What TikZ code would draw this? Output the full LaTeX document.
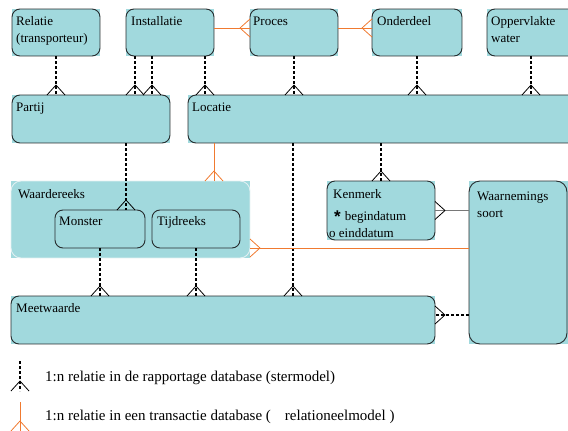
\documentclass[tikz,border=0pt]{standalone}
\usepackage{fontspec}
\setmainfont{Liberation Serif}
\usetikzlibrary{calc,decorations.markings}

\definecolor{boxfill}{RGB}{161,217,221}
\definecolor{boxline}{RGB}{38,44,46}
\definecolor{groupline}{RGB}{226,240,242}
\definecolor{relorange}{RGB}{240,122,48}
\definecolor{plainline}{RGB}{120,120,120}

\tikzset{
  entity/.style={rectangle, fill=boxfill, draw=none, anchor=north west,
    inner sep=0pt, outer sep=0pt},
  border/.style={draw=boxline, line width=0.9pt, rounded corners=8pt},
  groupborder/.style={draw=groupline, line width=0.9pt, rounded corners=10pt},
  lbl/.style={anchor=base west, inner sep=0pt, align=left,
    font=\fontsize{13}{17}\selectfont},
  legendlbl/.style={anchor=base west, inner sep=0pt,
    font=\fontsize{15}{18}\selectfont},
  crow/.style={postaction={decorate, decoration={markings,
    mark=at position 1 with {\draw[solid, line width=0.8pt, #1]
      (-10pt,0pt) -- (0pt,9pt) (-10pt,0pt) -- (0pt,-9pt);}}}},
  starrel/.style={draw=black, line width=1.8pt, dash pattern=on 3pt off 2pt,
    crow=black},
  transrel/.style={draw=relorange, line width=1pt, crow=relorange},
  plainrel/.style={draw=plainline, line width=1.5pt, crow=black},
}

\begin{document}
\begin{tikzpicture}[x=1pt, y=-1pt]
\useasboundingbox (0,0) rectangle (568,431);
\begin{scope}
\clip (0,0) rectangle (568,431);

% entities (sharp fill, rounded outline drawn afterwards)
\node[entity, minimum width=88, minimum height=47] (relatie)     at (12,9)   {};
\node[entity, minimum width=88, minimum height=47] (installatie) at (126,9)  {};
\node[entity, minimum width=88, minimum height=47] (proces)      at (250,9)  {};
\node[entity, minimum width=90, minimum height=47] (onderdeel)   at (372,9)  {};
\node[entity, minimum width=95, minimum height=47] (oppervlakte) at (487,9)  {};
\node[entity, minimum width=158, minimum height=48] (partij)      at (12,95)  {};
\node[entity, minimum width=392, minimum height=48] (locatie)    at (188,95) {};
\node[entity, minimum width=239, minimum height=77] (waardereeks) at (11,181) {};
\node[entity, minimum width=90, minimum height=38] (monster)     at (55,210) {};
\node[entity, minimum width=88, minimum height=38] (tijdreeks)   at (152,210) {};
\node[entity, minimum width=108, minimum height=59] (kenmerk)    at (327,181) {};
\node[entity, minimum width=99, minimum height=163] (waarneming) at (469,181) {};
\node[entity, minimum width=424, minimum height=48] (meetwaarde) at (11,296) {};

\draw[groupborder] (waardereeks.south west) rectangle (waardereeks.north east);
\foreach \n in {relatie,installatie,proces,onderdeel,partij,monster,tijdreeks,
                kenmerk,meetwaarde}
  \draw[border] (\n.south west) rectangle (\n.north east);
\draw[border] ($(oppervlakte.south west)$) rectangle ($(oppervlakte.north east)+(10,0)$);
\draw[border] ($(locatie.south west)$) rectangle ($(locatie.north east)+(10,0)$);
\draw[border, rounded corners=11pt] ($(waarneming.south west)$) rectangle ($(waarneming.north east)+(-1,0)$);

% entity names (two-line names are anchored at the baseline of their last line)
\node[lbl] (t-relatie)     at ($(relatie.north west)+(4,33)$)     {Relatie\\(transporteur)};
\node[lbl] (t-installatie) at ($(installatie.north west)+(5,16)$) {Installatie};
\node[lbl] (t-proces)      at ($(proces.north west)+(3,16)$)      {Proces};
\node[lbl] (t-onderdeel)   at ($(onderdeel.north west)+(5,16)$)   {Onderdeel};
\node[lbl] (t-oppervlakte) at ($(oppervlakte.north west)+(4,33)$) {Oppervlakte\\water};
\node[lbl] (t-partij)      at ($(partij.north west)+(4,16)$)      {Partij};
\node[lbl] (t-locatie)     at ($(locatie.north west)+(4,16)$)     {Locatie};
\node[lbl] (t-waardereeks) at ($(waardereeks.north west)+(7,17)$) {Waardereeks};
\node[lbl] (t-monster)     at ($(monster.north west)+(4,15)$)     {Monster};
\node[lbl] (t-tijdreeks)   at ($(tijdreeks.north west)+(5,15)$)   {Tijdreeks};
\node[lbl] (t-meetwaarde)  at ($(meetwaarde.north west)+(5,16)$)  {Meetwaarde};
\node[lbl] (t-kenmerk)     at ($(kenmerk.north west)+(6,17)$)     {Kenmerk};
\node[lbl] (t-begin)       at ($(kenmerk.north west)+(7,39)$)
  {\raisebox{-2pt}{\fontspec{Liberation Sans Bold}\fontsize{17}{17}\selectfont *}\hspace{4pt}begindatum};
\node[lbl] (t-eind)        at ($(kenmerk.north west)+(2,56)$)     {o einddatum};
\node[lbl] (t-waarneming)  at ($(waarneming.north west)+(8,36)$)  {Waarnemings\\soort};

% auxiliary attachment points
\coordinate (inst-a) at ($(installatie.south west)+(9,0)$);
\coordinate (inst-b) at ($(installatie.south west)+(26,0)$);
\coordinate (inst-c) at ($(installatie.south east)+(-9,0)$);
\coordinate (opp-a)  at ($(oppervlakte.south west)+(44,0)$);
\coordinate (inst-r) at ($(installatie.north east)+(0,19)$);
\coordinate (proc-r) at ($(proces.north east)+(0,19)$);
\coordinate (part-a) at ($(partij.south west)+(114,0)$);
\coordinate (loc-a)  at ($(locatie.south west)+(26,0)$);
\coordinate (loc-b)  at ($(locatie.south west)+(105,0)$);
\coordinate (wrn-a)  at ($(waarneming.north west)+(0,67)$);
\coordinate (wrn-b)  at ($(meetwaarde.north east)+(0,19)$);

% star model relations
\draw[starrel] (relatie.south) -- (relatie.south |- partij.north);
\draw[starrel] (inst-a) -- (inst-a |- partij.north);
\draw[starrel] (inst-b) -- (inst-b |- partij.north);
\draw[starrel] (inst-c) -- (inst-c |- locatie.north);
\draw[starrel] (proces.south) -- (proces.south |- locatie.north);
\draw[starrel] (onderdeel.south) -- (onderdeel.south |- locatie.north);
\draw[starrel] (opp-a) -- (opp-a |- locatie.north);
\draw[starrel] (part-a) -- (part-a |- monster.north);
\draw[starrel] (loc-b) -- (loc-b |- meetwaarde.north);
\draw[starrel] (kenmerk.north |- locatie.south) -- (kenmerk.north);
\draw[starrel] (monster.south) -- (monster.south |- meetwaarde.north);
\draw[starrel] (tijdreeks.south) -- (tijdreeks.south |- meetwaarde.north);
\draw[starrel] (wrn-b -| waarneming.west) -- (wrn-b);

% transaction model relations
\draw[transrel] (inst-r) -- (inst-r -| proces.west);
\draw[transrel] (proc-r) -- (proc-r -| onderdeel.west);
\draw[transrel] (loc-a) -- (loc-a |- waardereeks.north);
\draw[transrel] (wrn-a) -- (wrn-a -| waardereeks.east);

% plain relation
\draw[plainrel] (waarneming.west |- kenmerk.east) -- (kenmerk.east);

% legend
\coordinate (lg-a1) at (20,361);
\coordinate (lg-a2) at (20,391);
\coordinate (lg-b1) at (20,402);
\coordinate (lg-b2) at (20,431);
\draw[starrel] (lg-a1) -- (lg-a2);
\draw[transrel] (lg-b1) -- (lg-b2);
\node[legendlbl] (lg-text-a) at (45,381) {1:n relatie in de rapportage database (stermodel)};
\node[legendlbl] (lg-text-b) at (45,420) {1:n relatie in een transactie database (\hspace{14pt}relationeelmodel )};
\end{scope}
\end{tikzpicture}
\end{document}
